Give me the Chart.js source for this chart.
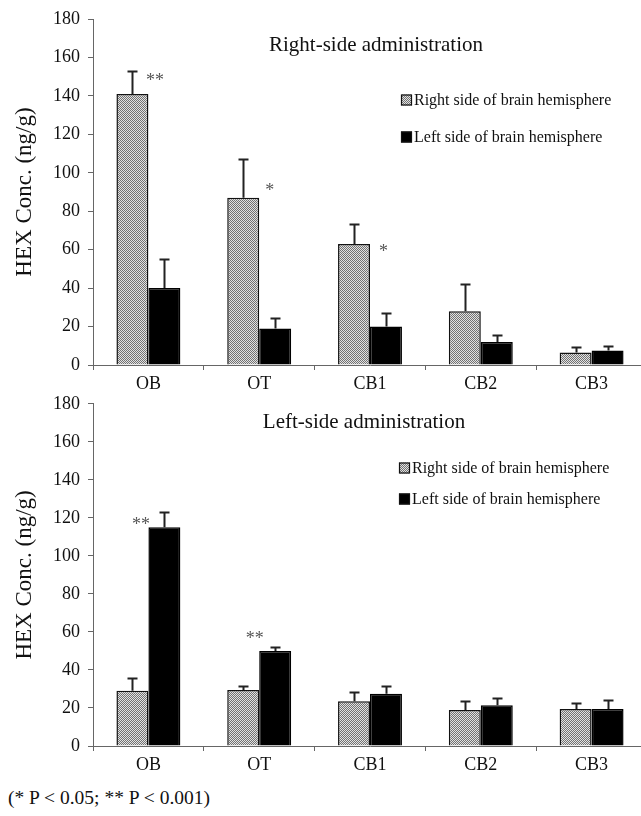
<!DOCTYPE html>
<html><head><meta charset="utf-8">
<script src="https://cdn.jsdelivr.net/npm/chart.js@4/dist/chart.umd.min.js"></script>
<style>
html,body{margin:0;padding:0;background:#fff;overflow:hidden;width:641px;height:816px;}
#wrap{position:relative;width:641px;height:816px;overflow:hidden;}
canvas{position:absolute;left:0;}
#c1{top:0;}
#c2{top:385px;}
#note{position:absolute;left:8px;top:787px;font-family:'Liberation Serif','Times New Roman',serif;font-size:19.5px;color:#111;white-space:nowrap;}
</style></head>
<body><div id="wrap">
<canvas id="c1" width="660" height="395"></canvas>
<canvas id="c2" width="660" height="391"></canvas>
<div id="note">(* P &lt; 0.05; ** P &lt; 0.001)</div>
</div>
<script>
// ---------- DATA ----------
const categories = ['OB', 'OT', 'CB1', 'CB2', 'CB3'];
const seriesNames = ['Right side of brain hemisphere', 'Left side of brain hemisphere'];
const yTicks = [0, 20, 40, 60, 80, 100, 120, 140, 160, 180];

// Right-side administration
const rightAdmRightHemi = [141, 87, 63, 28, 6.5];
const rightAdmRightHemiErr = [12, 20, 10.5, 14, 3];
const rightAdmLeftHemi = [40, 19, 20, 12, 7.5];
const rightAdmLeftHemiErr = [15, 5.5, 7, 3.5, 2.5];
const rightAdmSig = ['**', '*', '*', '', ''];
const rightAdmSigLevel = [150, 93, 61, 0, 0];

// Left-side administration
const leftAdmRightHemi = [29, 29.5, 23.5, 19, 19.5];
const leftAdmRightHemiErr = [7, 2, 5, 4.7, 3.2];
const leftAdmLeftHemi = [115, 50, 27.5, 21.5, 19.5];
const leftAdmLeftHemiErr = [8, 2, 3.8, 3.5, 4.5];
const leftAdmSig = ['**', '**', '', '', ''];
const leftAdmSigLevel = [119, 59, 0, 0, 0];

const titles = ['Right-side administration', 'Left-side administration'];

// ---------- STYLE ----------
const SERIF = "'Liberation Serif','Times New Roman',serif";
function makePattern() {
  const p = document.createElement('canvas');
  p.width = 2; p.height = 2;
  const c = p.getContext('2d');
  c.fillStyle = '#e2e2e2'; c.fillRect(0, 0, 2, 2);
  c.fillStyle = '#727272'; c.fillRect(0, 0, 1, 1); c.fillRect(1, 1, 1, 1);
  return c.createPattern(p, 'repeat');
}
const checker = makePattern();

const overlay = {
  id: 'overlay',
  afterDatasetsDraw(chart, args, opts) {
    const ctx = chart.ctx, ys = chart.scales.y, xs = chart.scales.x;
    ctx.save();
    // error bars (upper only)
    chart.data.datasets.forEach((ds, di) => {
      const meta = chart.getDatasetMeta(di);
      meta.data.forEach((bar, i) => {
        const v = ds.data[i], e = ds.errors[i];
        const px = Math.round(bar.x) + 0.5;
        const p0 = ys.getPixelForValue(v), p1 = Math.round(ys.getPixelForValue(v + e)) + 0.5;
        ctx.strokeStyle = '#222'; ctx.lineWidth = 2;
        ctx.beginPath();
        ctx.moveTo(px, p0); ctx.lineTo(px, p1);
        ctx.moveTo(px - 5, p1); ctx.lineTo(px + 5, p1);
        ctx.stroke();
      });
    });
    // significance marks
    ctx.fillStyle = '#555';
    ctx.font = '18px ' + SERIF;
    ctx.textAlign = 'center'; ctx.textBaseline = 'middle';
    opts.sig.forEach((s, i) => {
      if (!s) return;
      const cx = xs.getPixelForValue(i) + opts.sigDx[i];
      const cy = ys.getPixelForValue(opts.sigLevel[i]) + 5;
      ctx.fillText(s, cx, cy);
    });
    // title
    ctx.fillStyle = '#111';
    ctx.font = '21px ' + SERIF;
    ctx.textAlign = 'center'; ctx.textBaseline = 'middle';
    ctx.fillText(opts.title, opts.titleX, opts.titleY);
    // legend
    ctx.font = '16px ' + SERIF;
    ctx.textAlign = 'left';
    chart.data.datasets.forEach((ds, di) => {
      const y = opts.legendY[di];
      ctx.fillStyle = ds.backgroundColor;
      ctx.fillRect(opts.legendX, y - 5.5, 11, 11);
      ctx.strokeStyle = '#111'; ctx.lineWidth = 1.2;
      ctx.strokeRect(opts.legendX + 0.5, y - 5, 10, 10);
      ctx.fillStyle = '#111';
      ctx.fillText(ds.label, opts.legendX + 13, y + 1);
    });
    ctx.restore();
  }
};

function makeChart(id, right, rightErr, left, leftErr, ov, padTop) {
  return new Chart(document.getElementById(id), {
    type: 'bar',
    data: {
      labels: categories,
      datasets: [
        { label: seriesNames[0], data: right, errors: rightErr, backgroundColor: checker,
          borderColor: '#111', borderWidth: 1.5, borderSkipped: 'bottom' },
        { label: seriesNames[1], data: left, errors: leftErr, backgroundColor: '#000',
          borderColor: '#000', borderWidth: 1.5, borderSkipped: 'bottom' }
      ]
    },
    options: {
      responsive: false,
      animation: false,
      devicePixelRatio: 1,
      categoryPercentage: 0.577,
      barPercentage: 1.0,
      layout: { padding: { top: padTop, left: 0, right: 13, bottom: 0 } },
      plugins: { legend: { display: false }, tooltip: { enabled: false }, overlay: ov },
      scales: {
        x: {
          grid: { display: true, drawOnChartArea: false, drawTicks: true, tickLength: 5, color: '#666', offset: true },
          border: { display: true, color: '#666', width: 1 },
          ticks: { color: '#111', font: { family: SERIF, size: 18 }, padding: 3, maxRotation: 0 },
          afterFit(s) { s.height = 30; }
        },
        y: {
          min: 0, max: 180,
          afterBuildTicks(s) { s.ticks = yTicks.map(v => ({ value: v })); },
          grid: { display: true, drawOnChartArea: false, drawTicks: true, tickLength: 5, color: '#666' },
          border: { display: true, color: '#666', width: 1 },
          ticks: { color: '#111', font: { family: SERIF, size: 18 }, padding: 8 },
          title: { display: true, text: 'HEX Conc. (ng/g)', color: '#111', font: { family: SERIF, size: 23 }, padding: { top: 11, bottom: 0 } },
          afterFit(s) { s.width = 93; }
        }
      }
    },
    plugins: [overlay]
  });
}

makeChart('c1', rightAdmRightHemi, rightAdmRightHemiErr, rightAdmLeftHemi, rightAdmLeftHemiErr, {
  title: titles[0], titleX: 376, titleY: 45,
  legendX: 401, legendY: [100, 137],
  sig: rightAdmSig, sigLevel: rightAdmSigLevel, sigDx: [6.5, 10.5, 13.5, 0, 0]
}, 19);

makeChart('c2', leftAdmRightHemi, leftAdmRightHemiErr, leftAdmLeftHemi, leftAdmLeftHemiErr, {
  title: titles[1], titleX: 364, titleY: 37,
  legendX: 399, legendY: [83, 114],
  sig: leftAdmSig, sigLevel: leftAdmSigLevel, sigDx: [-7.5, -4.5, 0, 0, 0]
}, 17);
</script>
</body></html>
